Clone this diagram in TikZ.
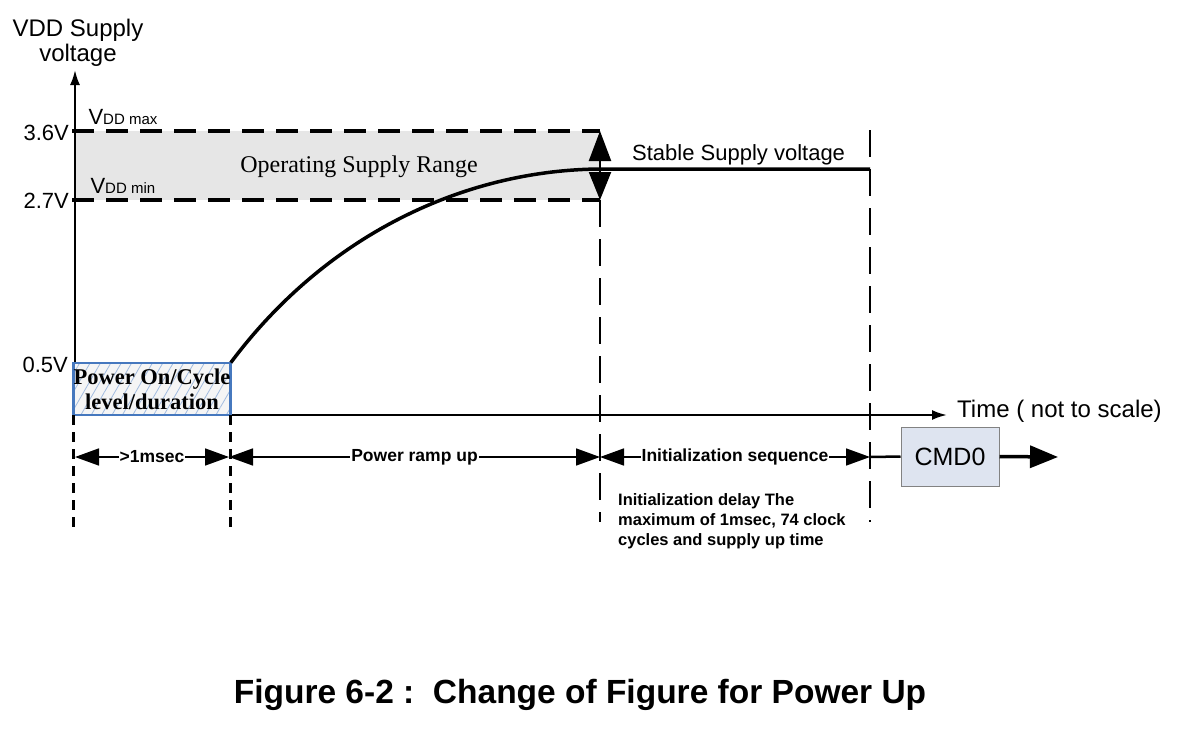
\documentclass[tikz,border=0pt]{standalone}
\usepackage{fontspec}
\setmainfont{Liberation Sans}
\newfontfamily\tnr{Liberation Serif}
\usepackage{tikz}
\usetikzlibrary{arrows.meta,patterns.meta}
\definecolor{mBand}{RGB}{230,230,230}
\definecolor{mBlue}{RGB}{70,120,190}
\definecolor{mCmd}{RGB}{222,228,240}
\definecolor{mFrame}{RGB}{130,130,130}

\begin{document}
\begin{tikzpicture}[
    x=1pt, y=-1pt,
    font=\fontsize{22}{24}\selectfont,
    axisline/.style={line width=2.2pt, -{Latex[length=15pt,width=10pt]}},
    limitline/.style={line width=3.5pt, dash pattern=on 22pt off 12pt},
    shortguide/.style={line width=3pt, dash pattern=on 10pt off 7pt},
    longguide/.style={line width=2.8pt, dash pattern=on 27pt off 12pt},
    dimarrow/.style={line width=1.6pt, {Triangle[length=24pt,width=17pt]}-{Triangle[length=24pt,width=17pt]}},
    dimtext/.style={font=\bfseries\fontsize{17.5}{20}\selectfont, fill=white, inner sep=1pt},
    pwrbox/.style={draw=mBlue, line width=2.8pt, preaction={fill=white!92!gray},
      pattern={Lines[angle=60,distance=9pt,line width=0.8pt]}, pattern color=mBlue!50,
      minimum width=154pt, minimum height=52pt, inner sep=0pt, align=center,
      font=\tnr\bfseries\fontsize{22.5}{25}\selectfont},
    cmdbox/.style={draw=mFrame, line width=1pt, fill=mCmd, minimum width=98pt, minimum height=59pt,
      font=\fontsize{25}{28}\selectfont}
]
  \useasboundingbox (0,0) rectangle (1181,753);

  % operating range
  \fill[mBand] (75,131) rectangle (600,200);
  \draw[limitline] (72,131) -- (600,131);
  \draw[limitline] (72,200) -- (600,200);
  \node[font=\tnr\fontsize{24}{28}\selectfont, anchor=base] (range) at (359,172) {Operating Supply Range};
  \node[anchor=base west] (vmax) at (85,124) {V{\fontsize{15}{18}\selectfont DD max}};
  \node[anchor=base west] (vmin) at (87,193) {V{\fontsize{15}{18}\selectfont DD min}};

  % axes
  \coordinate (O) at (75,415);
  \coordinate (ytop) at (75,70);
  \coordinate (tend) at (947,415);
  \draw[axisline] (O) -- (ytop);
  \draw[axisline] (O) -- (tend);
  \node[align=center, inner sep=0pt, anchor=north, font=\fontsize{24}{25}\selectfont] (ylabel) at (78,19) {VDD Supply\\voltage};
  \node[anchor=base west, inner sep=0pt, font=\fontsize{24}{26}\selectfont] (tlabel) at (957,417) {Time ( not to scale)};
  \node[anchor=base east, inner sep=0pt] (v36) at (69,140) {3.6V};
  \node[anchor=base east, inner sep=0pt] (v27) at (69,208) {2.7V};
  \node[anchor=base east, inner sep=0pt] (v05) at (68,372) {0.5V};

  % power on box and ramp
  \node[pwrbox] (pwr) at (152,389) {Power On/Cycle\\level/duration};
  \draw[line width=3.5pt] (pwr.north east) .. controls (330,230) and (470,170) .. (600,169) -- (870,169);
  \node[anchor=base west, inner sep=0pt] (stable) at (632,160) {Stable Supply voltage};
  \draw[line width=2.2pt, {Triangle[length=30pt,width=22pt]}-{Triangle[length=28pt,width=22pt]}] (600,131) -- (600,200);

  % guides
  \draw[shortguide] (pwr.south west) -- ++(0,112);
  \draw[shortguide] (pwr.south east) -- ++(0,112);
  \draw[longguide] (600,200) -- (600,522);
  \draw[longguide] (870,130) -- (870,522);

  % intervals
  \coordinate (d0) at (75,457);
  \coordinate (d1) at (229,457);
  \coordinate (d2) at (600,457);
  \coordinate (d3) at (870,457);
  \draw[dimarrow] (d0) -- node[dimtext] (t1) {>1msec} (d1);
  \draw[dimarrow] (d1) -- node[dimtext] (t2) {Power ramp up} (d2);
  \draw[dimarrow] (d2) -- node[dimtext] (t3) {Initialization sequence} (d3);
  \node[cmdbox] (cmd) at (950,456.5) {CMD0};
  \coordinate (cmdend) at (1058,457);
  \draw[line width=2.5pt] (d3) -- (cmd.west);
  \draw[line width=3.5pt, -{Triangle[length=28pt,width=22pt]}] (cmd.east) -- (cmdend);

  \node[anchor=north west, align=left, inner sep=0pt, font=\bfseries\fontsize{16.5}{20}\selectfont] (delay) at (618,493)
    {Initialization delay The\\maximum of 1msec, 74 clock\\cycles and supply up time};

  \node[font=\bfseries\fontsize{33.5}{36}\selectfont, anchor=base] (caption) at (580,703)
    {Figure 6-2 :\ \ Change of Figure for Power Up};
\end{tikzpicture}
\end{document}
